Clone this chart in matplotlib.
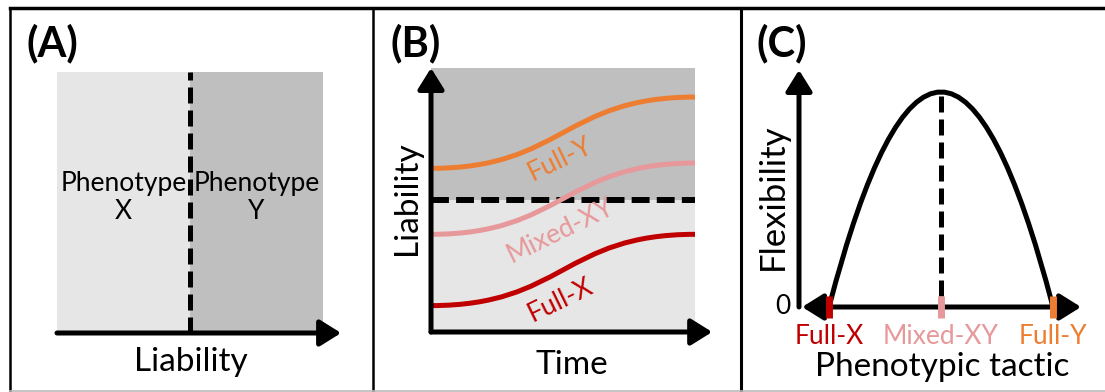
import numpy as np
import matplotlib
matplotlib.use("Agg")
import matplotlib.pyplot as plt
from matplotlib.lines import Line2D
from matplotlib.patches import PathPatch, Rectangle
from matplotlib.path import Path

plt.rcParams['font.family'] = ['Lato', 'DejaVu Sans']

# ---- data ----
# (A) liability threshold model
phenotypes = ["Phenotype\nX", "Phenotype\nY"]
threshold_A = 0.5

# (B) liability of each tactic through time (start level, end level)
tactics = ["Full-X", "Mixed-XY", "Full-Y"]
tactic_colors = ["#C00000", "#E6989A", "#ED7D31"]
liab_start = [0.10, 0.37, 0.62]
liab_end = [0.37, 0.64, 0.89]
label_pos_B = [(0.49, 0.12), (0.49, 0.385), (0.49, 0.655)]
threshold_B = 0.5

# (C) flexibility along tactic axis
tactic_x = [0.0, 0.5, 1.0]
flex_peak = 1.0

LIGHT = "#E6E6E6"
DARK = "#BFBFBF"
W, H = 1105, 392

fig = plt.figure(figsize=(W / 100, H / 100), dpi=100)


def px_axes(x0, y0, x1, y1):
    # axes from pixel box (top-left origin)
    return fig.add_axes([x0 / W, 1 - y1 / H, (x1 - x0) / W, (y1 - y0) / H])


def px_text(x, y, s, **kw):
    kw.setdefault('ha', 'center')
    kw.setdefault('va', 'center')
    return fig.text(x / W, 1 - y / H, s, **kw)


def arrow(ax, start, tip, style='-|>'):
    ax.annotate('', xy=tip, xytext=start, xycoords='data',
                arrowprops=dict(arrowstyle=style + ',head_length=0.8,head_width=0.5',
                                lw=3.6, color='black', mutation_scale=16,
                                shrinkA=0, shrinkB=0),
                annotation_clip=False, zorder=4)


# frame lines
for xs, ys, c, lw in [([10, W], [8, 8], 'black', 2.5),
                      ([10, 10], [8, H], 'black', 1.8),
                      ([373, 373], [8, H], 'black', 1.8),
                      ([741, 741], [8, H], 'black', 2.2),
                      ([10, W], [390.5, 390.5], '#BBBBBB', 1.2)]:
    fig.add_artist(Line2D([x / W for x in xs], [1 - y / H for y in ys],
                          color=c, lw=lw, transform=fig.transFigure))

# panel letters
for lbl, x in [("(A)", 27), ("(B)", 390), ("(C)", 757)]:
    px_text(x, 43, lbl, ha='left', fontsize=30, fontweight='bold')

# ---------------- (A) ----------------
axA = px_axes(57, 72, 323, 333)
axA.set_xlim(0, 1)
axA.set_ylim(0, 1)
axA.axis('off')
axA.add_patch(Rectangle((0, 0), threshold_A, 1, color=LIGHT, lw=0, zorder=0))
axA.add_patch(Rectangle((threshold_A, 0), 1 - threshold_A, 1, color=DARK, lw=0, zorder=0))
axA.plot([threshold_A, threshold_A], [0, 1], color='black', lw=3.6,
         dashes=(3.2, 1.4), dash_capstyle='butt', zorder=2)
axA.text(threshold_A / 2, 0.52, phenotypes[0], ha='center', va='center',
         fontsize=19, linespacing=1.15)
axA.text((1 + threshold_A) / 2, 0.52, phenotypes[1], ha='center', va='center',
         fontsize=19, linespacing=1.15)
arrow(axA, (0, 0), (1.068, 0))
px_text(191, 362, "Liability", fontsize=24)

# ---------------- (B) ----------------
axB = px_axes(431, 68, 695, 332)
axB.set_xlim(0, 1)
axB.set_ylim(0, 1)
axB.axis('off')
axB.add_patch(Rectangle((0, 0), 1, threshold_B, color=LIGHT, lw=0, zorder=0))
axB.add_patch(Rectangle((0, threshold_B), 1, 1 - threshold_B, color=DARK, lw=0, zorder=0))
axB.plot([0, 1], [threshold_B, threshold_B], color='black', lw=4.3,
         dashes=(3.0, 1.2), dash_capstyle='butt', zorder=2)
for name, col, y0, y1, (lx, ly) in zip(tactics, tactic_colors, liab_start,
                                        liab_end, label_pos_B):
    verts = [(0, y0), (0.5, y0), (0.5, y1), (1, y1)]
    codes = [Path.MOVETO, Path.CURVE4, Path.CURVE4, Path.CURVE4]
    axB.add_patch(PathPatch(Path(verts, codes), fc='none', ec=col, lw=3.6, zorder=3))
    axB.text(lx, ly, name, color=col, rotation=26, ha='center', va='center',
             fontsize=19, rotation_mode='anchor')
arrow(axB, (0, 0), (0, 1.0))
arrow(axB, (0, 0), (1.065, 0))
px_text(572, 365, "Time", fontsize=24)
px_text(407, 198, "Liability", fontsize=24, rotation=90)

# ---------------- (C) ----------------
axC = px_axes(799, 70, 1081, 307)
axC.set_xlim(-0.134, 1.125)
axC.set_ylim(0, 1.102)
axC.axis('off')
verts = [(tactic_x[0], 0), (tactic_x[1], 2 * flex_peak), (tactic_x[2], 0)]
axC.add_patch(PathPatch(Path(verts, [Path.MOVETO, Path.CURVE3, Path.CURVE3]),
                        fc='none', ec='black', lw=3.6, zorder=3))
axC.plot([tactic_x[1], tactic_x[1]], [0.05, flex_peak], color='black', lw=3.6,
         dashes=(3.2, 1.4), dash_capstyle='butt', zorder=2)
arrow(axC, (-0.134, 0), (-0.134, 1.102))
arrow(axC, (-0.12, 0), (1.125, 0), style='<|-|>')
for name, col, x in zip(tactics, tactic_colors, tactic_x):
    axC.plot([x, x], [-0.052, 0.052], color=col, lw=5, solid_capstyle='butt',
             zorder=6, clip_on=False)
    axC.text(x, -0.135, name, color=col, ha='center', va='center', fontsize=19)
px_text(783, 306, "0", fontsize=19)
px_text(942, 367, "Phenotypic tactic", fontsize=24)
px_text(773, 197, "Flexibility", fontsize=25, rotation=90)

fig.savefig("out.png", dpi=100)
